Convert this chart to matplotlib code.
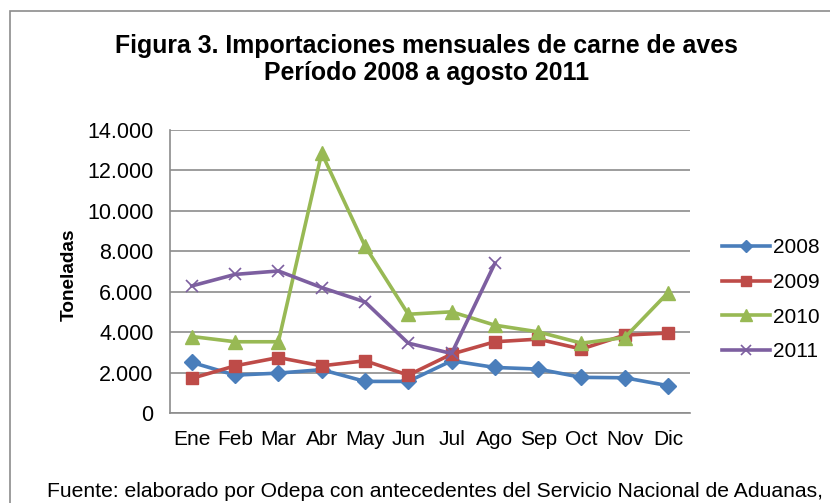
import matplotlib.pyplot as plt
from matplotlib.patches import Rectangle

meses = ["Ene", "Feb", "Mar", "Abr", "May", "Jun", "Jul", "Ago", "Sep", "Oct", "Nov", "Dic"]
v2008 = [2500, 1870, 1970, 2140, 1560, 1560, 2580, 2250, 2170, 1760, 1740, 1350]
v2009 = [1710, 2330, 2740, 2330, 2580, 1870, 2910, 3520, 3650, 3160, 3850, 3950]
v2010 = [3780, 3520, 3520, 12850, 8250, 4880, 5000, 4340, 4010, 3450, 3730, 5950]
v2011 = [6280, 6850, 7020, 6200, 5490, 3450, 2940, 7400]

plt.rcParams['font.family'] = ['Liberation Sans', 'DejaVu Sans']

fig = plt.figure(figsize=(8.3, 5.03), dpi=100)
ax = fig.add_axes([0.205, 0.179, 0.626, 0.563])

# marco exterior
fig.patches.append(Rectangle((0.012, -0.05), 1.1, 1.028, transform=fig.transFigure,
                             fill=False, edgecolor="#8c8c8c", linewidth=1.2))

x = list(range(len(meses)))
ax.plot(x, v2008, color="#4a7ebb", lw=2.6, marker="D", ms=8, label="2008")
ax.plot(x, v2009, color="#be4b48", lw=2.6, marker="s", ms=9, label="2009")
ax.plot(x, v2010, color="#98b954", lw=2.6, marker="^", ms=10, label="2010")
ax.plot(x[:len(v2011)], v2011, color="#7d5fa0", lw=2.6, marker="x", ms=9, mew=1.2, label="2011")

ax.set_xlim(-0.5, 11.5)
ax.set_ylim(0, 14000)
ax.set_yticks(range(0, 14001, 2000))
ax.set_yticklabels([f"{v:,}".replace(",", ".") for v in range(0, 14001, 2000)], fontsize=15.5)
ax.set_xticks(x)
ax.set_xticklabels(meses, fontsize=15)
ax.tick_params(length=0, pad=12)
ax.grid(axis="y", color="#8c8c8c", lw=1.2)
ax.set_axisbelow(True)
for s in ["top", "right"]:
    ax.spines[s].set_visible(False)
for s in ["left", "bottom"]:
    ax.spines[s].set_color("#8c8c8c")
    ax.spines[s].set_linewidth(1.2)
ax.set_ylabel("Toneladas", fontsize=13.7, fontweight="bold")
ax.yaxis.set_label_coords(-0.177, 0.488)

ax.legend(loc="center left", bbox_to_anchor=(0.870, 0.404), bbox_transform=fig.transFigure,
          frameon=False, fontsize=15, handlelength=2.3, labelspacing=0.75,
          handletextpad=0.15, borderpad=0, borderaxespad=0, markerscale=0.8)

fig.text(0.514, 0.895, "Figura 3. Importaciones mensuales de carne de aves", ha="center",
         va="baseline", fontsize=17.9, fontweight="bold")
fig.text(0.514, 0.841, "Período 2008 a agosto 2011", ha="center", va="baseline",
         fontsize=17.9, fontweight="bold")

fig.text(0.057, 0.012, "Fuente: elaborado por Odepa con antecedentes del Servicio Nacional de Aduanas,",
         va="baseline", fontsize=15.2)

fig.savefig("out.png", dpi=100)
